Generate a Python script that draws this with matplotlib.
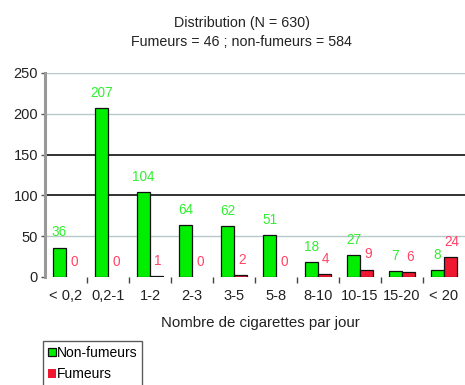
import matplotlib
matplotlib.use('Agg')
import matplotlib.pyplot as plt
import numpy as np

plt.rcParams['font.family'] = ['Liberation Sans', 'DejaVu Sans']

# Data
categories = ['< 0,2', '0,2-1', '1-2', '2-3', '3-5', '5-8', '8-10', '10-15', '15-20', '< 20']
non_fumeurs = [36, 207, 104, 64, 62, 51, 18, 27, 7, 8]
fumeurs = [0, 0, 1, 0, 2, 0, 4, 9, 6, 24]
yticks = [0, 50, 100, 150, 200, 250]

fig = plt.figure(figsize=(4.65, 3.85), dpi=100)
ax = fig.add_axes([45 / 465, (385 - 277) / 385, 420 / 465, 204 / 385])

x = np.arange(len(categories))
w = 0.31

# Grid lines (two of them appear darker)
for yv in yticks[1:]:
    if yv in (100, 150):
        ax.axhline(yv, color='#222222', lw=1.3, zorder=0)
    else:
        ax.axhline(yv, color='#b7c9c9', lw=1.0, zorder=0)

ax.bar(x - w / 2, non_fumeurs, w, color='#00ee00', edgecolor='#111111',
       linewidth=0.9, label='Non-fumeurs', zorder=2)
lw_f = [0.9 if v else 0 for v in fumeurs]
ax.bar(x + w / 2, fumeurs, w, color='#f01830', edgecolor='#111111',
       linewidth=lw_f, label='Fumeurs', zorder=2)

# Value labels
for i in range(len(categories)):
    ax.text(x[i] - w / 2, non_fumeurs[i] + 10, str(non_fumeurs[i]),
            ha='center', va='bottom', color='#33ee33', fontsize=9.8)
    ax.text(x[i] + w / 2 + 0.03, fumeurs[i] + 10, str(fumeurs[i]),
            ha='center', va='bottom', color='#ff4466', fontsize=9.8)

ax.set_xlim(-0.5, len(categories) - 0.5)
ax.set_ylim(0, 250)
ax.set_yticks(yticks)
ax.set_yticklabels([str(v) for v in yticks], fontsize=10.5, color='#222222')
ax.set_xticks(x)
ax.set_xticklabels(categories, fontsize=10.5, color='#222222')
ax.tick_params(axis='x', length=0, pad=9)
ax.tick_params(axis='y', length=3, width=1, color='#555555', pad=2)

# Small ticks between categories
ax.set_xticks(x[:-1] + 0.5, minor=True)
ax.tick_params(axis='x', which='minor', length=4, width=1, color='#444444', pad=0)

for s in ['top', 'right', 'bottom']:
    ax.spines[s].set_visible(False)
ax.spines['left'].set_color('#999999')
ax.spines['left'].set_linewidth(2.2)
ax.spines['left'].set_bounds(0, 250)

fig.text(0.52, 1 - 23 / 385, 'Distribution (N = 630)', ha='center', va='center',
         fontsize=10.3, color='#222222')
fig.text(0.52, 1 - 42 / 385, 'Fumeurs = 46 ; non-fumeurs = 584', ha='center', va='center',
         fontsize=10.3, color='#222222')
fig.text(0.56, 1 - 323 / 385, 'Nombre de cigarettes par jour', ha='center',
         va='center', fontsize=10.8, color='#222222')

leg = fig.legend(loc='upper left', bbox_to_anchor=(43 / 465, 1 - 341 / 385),
                 frameon=True, fancybox=False, fontsize=10, handlelength=0.55,
                 handleheight=0.55, handletextpad=0.1, borderpad=0.35,
                 labelspacing=0.55, borderaxespad=0)
leg.get_frame().set_edgecolor('#333333')
leg.get_frame().set_linewidth(1.0)

fig.savefig('out.png', dpi=100)
